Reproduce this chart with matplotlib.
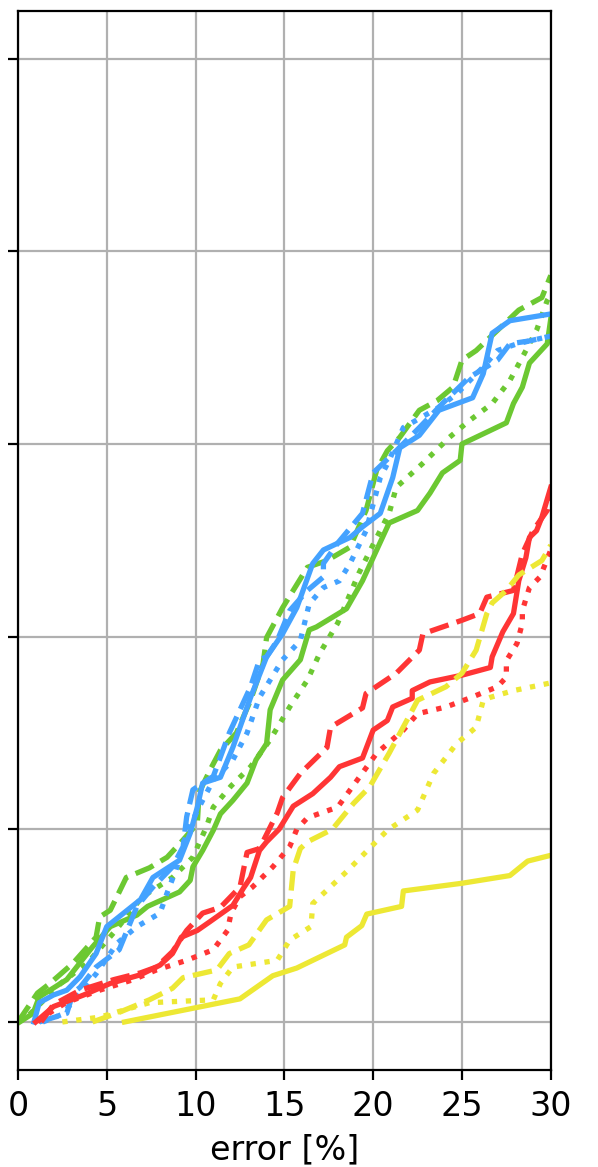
import matplotlib
matplotlib.use("Agg")
import matplotlib.pyplot as plt

# cumulative share of cases below a given error
green_solid_x = [0.1, 0.85, 1.2, 2.75, 4.2, 5.2, 6.7, 7.3, 9.1, 9.7, 9.85, 10.4, 11.0, 11.4, 12.1, 12.9, 13.4, 14.0, 14.2, 14.9, 15.9, 16.4, 16.8, 18.5, 19.4, 20.2, 20.9, 22.5, 23.2, 23.9, 24.9, 25.0, 27.5, 27.9, 28.4, 28.8, 29.8, 30.0]
green_solid_y = [0.0, 0.009, 0.026, 0.044, 0.078, 0.099, 0.111, 0.12, 0.135, 0.147, 0.161, 0.178, 0.199, 0.216, 0.23, 0.248, 0.272, 0.289, 0.324, 0.355, 0.376, 0.407, 0.41, 0.429, 0.458, 0.49, 0.518, 0.531, 0.549, 0.57, 0.583, 0.6, 0.622, 0.642, 0.659, 0.684, 0.704, 0.73]

green_dashed_x = [0.0, 1.1, 1.8, 3.1, 4.4, 4.6, 5.2, 6.1, 7.4, 8.4, 9.3, 10.1, 10.2, 10.8, 11.4, 12.3, 13.1, 13.8, 14.0, 14.9, 15.5, 16.3, 17.4, 18.7, 19.6, 20.2, 20.8, 21.5, 22.6, 23.6, 24.5, 25.0, 25.8, 27.0, 28.2, 29.5, 30.0]
green_dashed_y = [0.0, 0.03, 0.04, 0.061, 0.088, 0.109, 0.116, 0.15, 0.16, 0.171, 0.189, 0.206, 0.238, 0.261, 0.282, 0.3, 0.334, 0.372, 0.399, 0.43, 0.448, 0.472, 0.479, 0.493, 0.531, 0.573, 0.593, 0.607, 0.635, 0.645, 0.659, 0.687, 0.697, 0.718, 0.739, 0.752, 0.775]

green_dotted_x = [0.0, 0.5, 2.4, 3.9, 5.5, 7.0, 8.7, 9.85, 10.6, 11.0, 12.0, 13.1, 14.2, 15.3, 16.3, 17.0, 18.0, 19.2, 20.2, 20.9, 21.3, 22.8, 24.3, 25.4, 26.7, 27.7, 28.4, 29.2, 29.8, 30.0]
green_dotted_y = [0.0, 0.005, 0.04, 0.061, 0.095, 0.13, 0.15, 0.171, 0.202, 0.223, 0.245, 0.265, 0.293, 0.327, 0.355, 0.383, 0.414, 0.466, 0.503, 0.528, 0.555, 0.58, 0.607, 0.624, 0.642, 0.666, 0.69, 0.718, 0.749, 0.755]

blue_solid_x = [0.9, 1.2, 2.0, 2.75, 3.5, 4.4, 5.0, 6.9, 7.6, 9.1, 9.7, 10.1, 10.4, 11.4, 12.1, 13.1, 14.0, 14.9, 15.7, 16.6, 17.2, 18.7, 19.4, 20.4, 21.1, 21.5, 22.6, 23.7, 25.6, 26.2, 26.7, 27.7, 30.0]
blue_solid_y = [0.0, 0.02, 0.028, 0.033, 0.047, 0.071, 0.099, 0.127, 0.15, 0.168, 0.196, 0.223, 0.248, 0.254, 0.285, 0.337, 0.379, 0.403, 0.43, 0.476, 0.49, 0.503, 0.514, 0.528, 0.565, 0.596, 0.609, 0.635, 0.648, 0.673, 0.715, 0.728, 0.735]

blue_dashed_x = [1.2, 2.75, 3.1, 3.5, 4.4, 5.7, 6.7, 7.6, 8.7, 9.3, 9.5, 9.85, 10.4, 11.0, 11.9, 12.5, 13.1, 13.6, 14.0, 14.6, 15.3, 16.3, 17.2, 17.2, 18.0, 19.4, 20.0, 21.3, 22.6, 23.9, 25.4, 27.0, 27.7, 28.8, 30.0]
blue_dashed_y = [0.0, 0.009, 0.03, 0.036, 0.057, 0.075, 0.12, 0.14, 0.161, 0.182, 0.213, 0.241, 0.248, 0.255, 0.3, 0.324, 0.348, 0.376, 0.379, 0.396, 0.427, 0.448, 0.462, 0.476, 0.497, 0.528, 0.57, 0.593, 0.617, 0.642, 0.669, 0.687, 0.704, 0.707, 0.712]

blue_dotted_x = [1.4, 2.5, 3.5, 4.4, 5.6, 6.7, 8.0, 8.4, 8.9, 9.5, 10.2, 11.0, 12.1, 12.9, 13.6, 14.9, 15.9, 16.4, 17.2, 18.1, 18.7, 19.6, 20.4, 20.9, 21.7, 23.7, 24.7, 26.2, 27.0, 28.1, 30.0]
blue_dotted_y = [0.0, 0.008, 0.03, 0.05, 0.082, 0.099, 0.113, 0.134, 0.158, 0.196, 0.223, 0.251, 0.272, 0.3, 0.337, 0.376, 0.396, 0.434, 0.451, 0.458, 0.476, 0.51, 0.565, 0.583, 0.617, 0.638, 0.652, 0.68, 0.697, 0.704, 0.712]

red_solid_x = [1.0, 2.0, 3.7, 5.2, 6.9, 8.0, 8.7, 9.2, 10.1, 10.8, 12.1, 12.7, 13.1, 13.6, 14.0, 14.7, 15.5, 16.6, 17.6, 18.1, 19.4, 20.0, 20.8, 21.1, 22.2, 22.2, 23.2, 25.0, 26.6, 26.7, 27.3, 27.9, 28.2, 28.6, 28.8, 29.2, 29.5, 30.0]
red_solid_y = [0.0, 0.016, 0.028, 0.04, 0.049, 0.059, 0.071, 0.088, 0.095, 0.104, 0.121, 0.139, 0.15, 0.178, 0.187, 0.2, 0.224, 0.237, 0.254, 0.265, 0.274, 0.303, 0.313, 0.327, 0.336, 0.344, 0.353, 0.36, 0.368, 0.379, 0.405, 0.424, 0.458, 0.482, 0.503, 0.51, 0.524, 0.555]

red_dashed_x = [1.3, 2.0, 3.5, 5.4, 6.9, 7.8, 8.7, 9.5, 10.4, 11.4, 12.5, 12.9, 13.6, 14.6, 14.9, 15.9, 17.4, 17.6, 19.4, 19.6, 21.3, 22.6, 22.8, 25.0, 26.0, 26.4, 27.9, 28.4, 29.0, 29.8, 30.0]
red_dashed_y = [0.0, 0.018, 0.033, 0.044, 0.051, 0.057, 0.073, 0.095, 0.113, 0.119, 0.14, 0.176, 0.18, 0.217, 0.233, 0.258, 0.285, 0.306, 0.326, 0.341, 0.362, 0.386, 0.403, 0.417, 0.424, 0.441, 0.448, 0.486, 0.51, 0.531, 0.55]

red_dotted_x = [1.1, 1.4, 2.7, 4.6, 6.5, 7.8, 9.5, 11.0, 11.8, 12.0, 12.5, 13.2, 14.35, 15.3, 15.7, 16.3, 18.0, 20.2, 21.7, 22.5, 24.1, 25.4, 27.0, 27.5, 27.5, 28.1, 28.4, 28.4, 28.8, 29.4, 30.0]
red_dotted_y = [0.0, 0.005, 0.02, 0.033, 0.044, 0.054, 0.064, 0.075, 0.095, 0.113, 0.13, 0.14, 0.161, 0.182, 0.2, 0.212, 0.223, 0.279, 0.303, 0.32, 0.327, 0.336, 0.348, 0.358, 0.375, 0.393, 0.414, 0.427, 0.451, 0.462, 0.49]

yellow_solid_x = [6.0, 12.5, 14.35, 15.7, 16.6, 18.4, 18.5, 19.36, 19.64, 21.6, 21.7, 25.0, 27.7, 28.7, 30.0]
yellow_solid_y = [0.0, 0.024, 0.048, 0.056, 0.064, 0.08, 0.088, 0.1, 0.112, 0.12, 0.136, 0.144, 0.152, 0.167, 0.173]

yellow_dashed_x = [4.2, 5.7, 7.4, 8.7, 9.3, 11.2, 11.9, 13.0, 14.0, 15.3, 15.5, 15.9, 16.3, 17.7, 18.9, 19.8, 20.9, 22.1, 22.5, 24.1, 25.0, 25.8, 26.4, 26.7, 27.5, 28.2, 29.5, 30.0]
yellow_dashed_y = [0.0, 0.01, 0.023, 0.035, 0.046, 0.054, 0.071, 0.08, 0.106, 0.12, 0.158, 0.18, 0.187, 0.2, 0.227, 0.244, 0.279, 0.32, 0.334, 0.348, 0.362, 0.386, 0.424, 0.435, 0.448, 0.464, 0.479, 0.495]

yellow_dotted_x = [2.5, 4.6, 7.4, 11.0, 11.4, 12.1, 14.6, 15.3, 16.5, 16.6, 18.5, 20.8, 22.5, 23.4, 24.7, 25.8, 26.2, 26.6, 27.9, 30.0]
yellow_dotted_y = [0.0, 0.005, 0.02, 0.023, 0.04, 0.057, 0.064, 0.085, 0.099, 0.123, 0.156, 0.199, 0.22, 0.258, 0.289, 0.306, 0.334, 0.337, 0.344, 0.352]

colors = {
    "green": "#6cc832",
    "blue": "#44a2ff",
    "red": "#ff3535",
    "yellow": "#ede834",
}

curves = [
    ("green", "-", green_solid_x, green_solid_y),
    ("green", "--", green_dashed_x, green_dashed_y),
    ("green", ":", green_dotted_x, green_dotted_y),
    ("blue", "-", blue_solid_x, blue_solid_y),
    ("blue", "--", blue_dashed_x, blue_dashed_y),
    ("blue", ":", blue_dotted_x, blue_dotted_y),
    ("red", "-", red_solid_x, red_solid_y),
    ("red", "--", red_dashed_x, red_dashed_y),
    ("red", ":", red_dotted_x, red_dotted_y),
    ("yellow", "-", yellow_solid_x, yellow_solid_y),
    ("yellow", "--", yellow_dashed_x, yellow_dashed_y),
    ("yellow", ":", yellow_dotted_x, yellow_dotted_y),
]

fig = plt.figure(figsize=(2.99, 5.835), dpi=200)
ax = fig.add_axes([0.030, 0.083, 0.891, 0.908])

for name, ls, xs, ys in curves:
    ax.plot(xs, ys, color=colors[name], ls=ls, lw=1.9)

ax.set_xlim(0, 30)
ax.set_ylim(-0.05, 1.05)
ax.set_xticks([0, 5, 10, 15, 20, 25, 30])
ax.set_yticks([0.0, 0.2, 0.4, 0.6, 0.8, 1.0])
ax.set_yticklabels([])
ax.tick_params(axis="x", labelsize=12)
ax.grid(True, color="#b0b0b0", lw=0.8)
ax.set_axisbelow(True)
ax.set_xlabel("error [%]", fontsize=12)

fig.savefig("out.png", dpi=200)
